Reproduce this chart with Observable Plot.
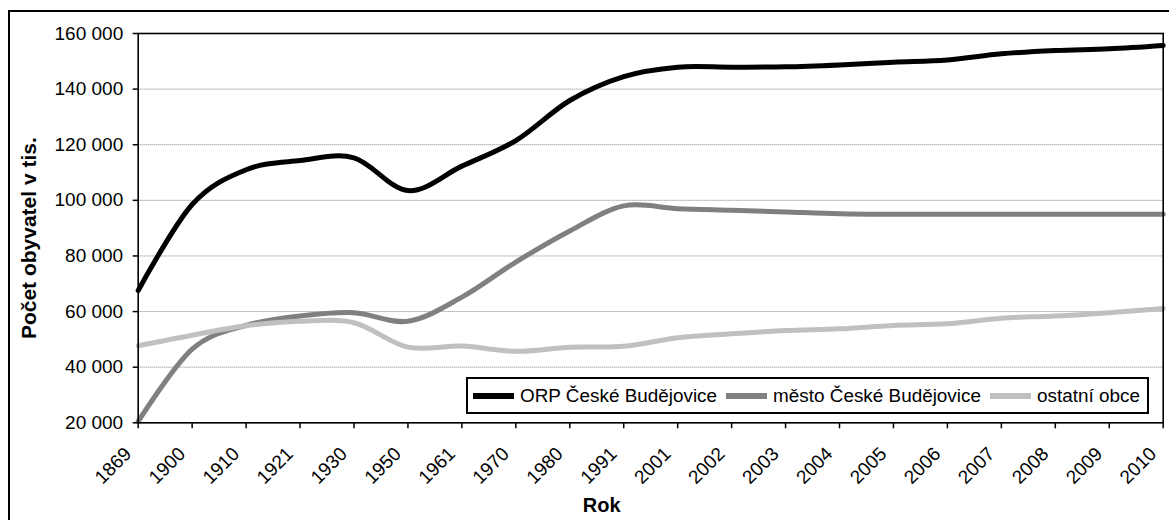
<!DOCTYPE html>
<html><head><meta charset="utf-8">
<script src="https://cdn.jsdelivr.net/npm/d3@7"></script>
<script src="https://cdn.jsdelivr.net/npm/@observablehq/plot@0.6"></script>
<style>
html,body{margin:0;padding:0;background:#fff;overflow:hidden;width:1169px;height:520px;}
#wrap{position:relative;width:1169px;height:520px;font-family:"Liberation Sans",Arial,sans-serif;color:#000;}
#border{position:absolute;left:8px;top:10px;width:1300px;height:700px;border:2px solid #000;box-sizing:border-box;}
#chart{position:absolute;left:0;top:0;}
#legend{position:absolute;left:466px;top:377px;width:683px;height:37px;border:2px solid #000;box-sizing:border-box;background:#fff;display:flex;align-items:center;padding-left:5px;font-size:18.9px;white-space:nowrap;}
.item{display:flex;align-items:center;margin-right:9px;}
.sw{width:41px;height:6px;margin-right:6px;}
</style></head><body>
<div id="wrap"><div id="border"></div><div id="chart"></div><div id="legend"></div></div>
<script>
const categories = ["1869","1900","1910","1921","1930","1950","1961","1970","1980","1991","2001","2002","2003","2004","2005","2006","2007","2008","2009","2010"];
const seriesNames = ["ORP České Budějovice","město České Budějovice","ostatní obce"];
const seriesColors = ["#000000","#808080","#c0c0c0"];
const orp     = [67600, 98500, 111000, 114300, 115300, 103500, 112300, 121500, 135900, 144500, 147900, 147900, 148000, 148700, 149700, 150500, 152700, 153900, 154500, 155700];
const mesto   = [20500, 46500, 55000, 58400, 59600, 56500, 65200, 77800, 89000, 98000, 97000, 96400, 95800, 95200, 95000, 95000, 95000, 95000, 95000, 95000];
const ostatni = [47700, 51500, 54900, 56500, 56000, 47200, 47600, 45700, 47200, 47500, 50600, 52000, 53200, 53800, 55000, 55600, 57600, 58400, 59600, 61100];
const yTicks = [20000, 40000, 60000, 80000, 100000, 120000, 140000, 160000];
const yTitle = "Počet obyvatel v tis.";
const xTitle = "Rok";

const seriesValues = [orp, mesto, ostatni];
const rows = [];
seriesNames.forEach((s, i) => categories.forEach((c, j) => rows.push({series: s, year: c, value: seriesValues[i][j]})));

const fmt = d => d3.format(",")(d).replace(/,/g, " ");

const chart = Plot.plot({
  width: 1169, height: 520,
  marginLeft: 137.7, marginRight: 6.3, marginTop: 33, marginBottom: 97.7,
  style: {fontFamily: "Liberation Sans, Arial, sans-serif", fontSize: "19px", background: "transparent", color: "#000", overflow: "visible"},
  x: {type: "point", domain: categories, padding: 0, round: false},
  y: {domain: [20000, 160000]},
  color: {domain: seriesNames, range: seriesColors},
  marks: [
    Plot.ruleY(yTicks, {stroke: "#808080", strokeWidth: 1, strokeDasharray: "1,1"}),
    Plot.line(rows, {x: "year", y: "value", z: "series", stroke: "series", strokeWidth: 5, curve: "cardinal"}),
    Plot.frame({stroke: "#000", strokeWidth: 1.6}),
    Plot.axisY({ticks: yTicks, tickFormat: fmt, tickSize: 5, tickPadding: 10, label: null, fontSize: 19, strokeWidth: 1.5}),
    Plot.axisX({tickSize: 6, tickFormat: () => "", label: null, strokeWidth: 1.5}),
    Plot.text(categories, {x: d => d, text: d => d, frameAnchor: "bottom", rotate: -45, textAnchor: "end", lineAnchor: "middle", dx: -10, dy: 28, fontSize: 19}),
    Plot.text([yTitle], {text: d => d, frameAnchor: "left", textAnchor: "middle", lineAnchor: "middle", dx: -108.7, dy: 10, rotate: -90, fontWeight: "bold", fontSize: 21}),
    Plot.text([xTitle], {text: d => d, frameAnchor: "bottom", textAnchor: "middle", lineAnchor: "middle", dx: -49, dy: 83, fontWeight: "bold", fontSize: 20})
  ]
});
document.getElementById("chart").appendChild(chart);

const legend = document.getElementById("legend");
seriesNames.forEach((s, i) => {
  const item = document.createElement("div");
  item.className = "item";
  const sw = document.createElement("span");
  sw.className = "sw";
  sw.style.background = seriesColors[i];
  const t = document.createElement("span");
  t.textContent = s;
  item.appendChild(sw); item.appendChild(t);
  legend.appendChild(item);
});
</script>
</body></html>
